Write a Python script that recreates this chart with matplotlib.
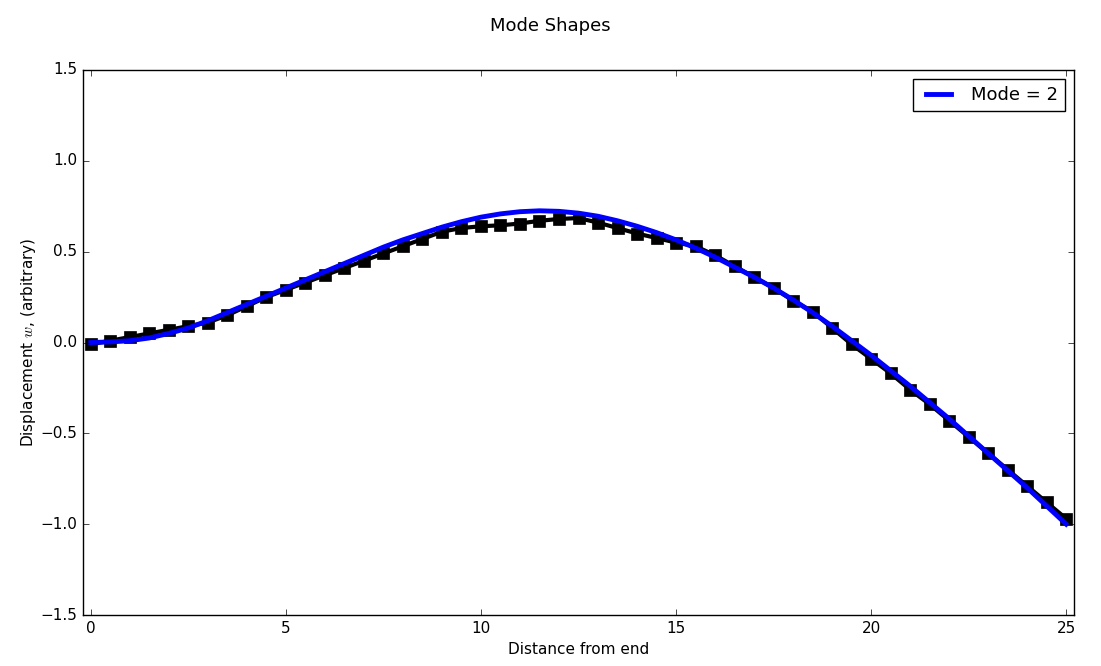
import numpy as np
import matplotlib
matplotlib.use('Agg')
import matplotlib.pyplot as plt

# blue mode shape, read at half steps
x_mode = [i * 0.5 for i in range(51)]
w_mode = [0.0, 0.003, 0.01, 0.025, 0.05, 0.08, 0.12, 0.165, 0.21, 0.255, 0.30, 0.345,
          0.39, 0.435, 0.48, 0.525, 0.565, 0.60, 0.635, 0.665, 0.69, 0.708, 0.72, 0.725,
          0.722, 0.712, 0.695, 0.67, 0.64, 0.605, 0.565, 0.52, 0.47, 0.415, 0.36, 0.30,
          0.235, 0.165, 0.09, 0.01, -0.07, -0.155, -0.24, -0.33, -0.42, -0.515, -0.61,
          -0.705, -0.80, -0.90, -1.0]

# black measured shape, read at half steps
x_meas = [i * 0.5 for i in range(51)]
w_meas = [-0.01, 0.01, 0.03, 0.05, 0.07, 0.09, 0.11, 0.15, 0.20, 0.25, 0.29, 0.33, 0.37,
          0.41, 0.45, 0.49, 0.53, 0.57, 0.61, 0.63, 0.64, 0.645, 0.655, 0.67, 0.68, 0.685,
          0.66, 0.63, 0.60, 0.575, 0.55, 0.53, 0.48, 0.42, 0.36, 0.30, 0.23, 0.17, 0.08,
          -0.01, -0.09, -0.17, -0.26, -0.34, -0.43, -0.52, -0.61, -0.70, -0.79, -0.88, -0.97]

plt.style.use('classic')
fig = plt.figure(figsize=(11.01, 6.66), dpi=100, facecolor='white')
ax = fig.add_axes([83/1101, 51/666, 991/1101, 545/666])

ax.plot(x_meas, w_meas, color='black', linestyle='-', linewidth=3, marker='s',
        markersize=8, markeredgecolor='black')
ax.plot(x_mode, w_mode, color='blue', linewidth=3.5, label='Mode = 2')

ax.set_xlim(-0.2, 25.2)
ax.set_ylim(-1.5, 1.5)
ax.set_xticks([0, 5, 10, 15, 20, 25])
ax.set_yticks(np.arange(-1.5, 1.51, 0.5))
ax.tick_params(labelsize=11)
ax.set_xlabel('Distance from end', fontsize=11)
ax.set_ylabel('Displacement $w$, (arbitrary)', fontsize=11, labelpad=2)
fig.suptitle('Mode Shapes', y=0.975, fontsize=13)
ax.legend(loc='upper right', fontsize=13)

fig.savefig('out.png', dpi=100, facecolor='white')
